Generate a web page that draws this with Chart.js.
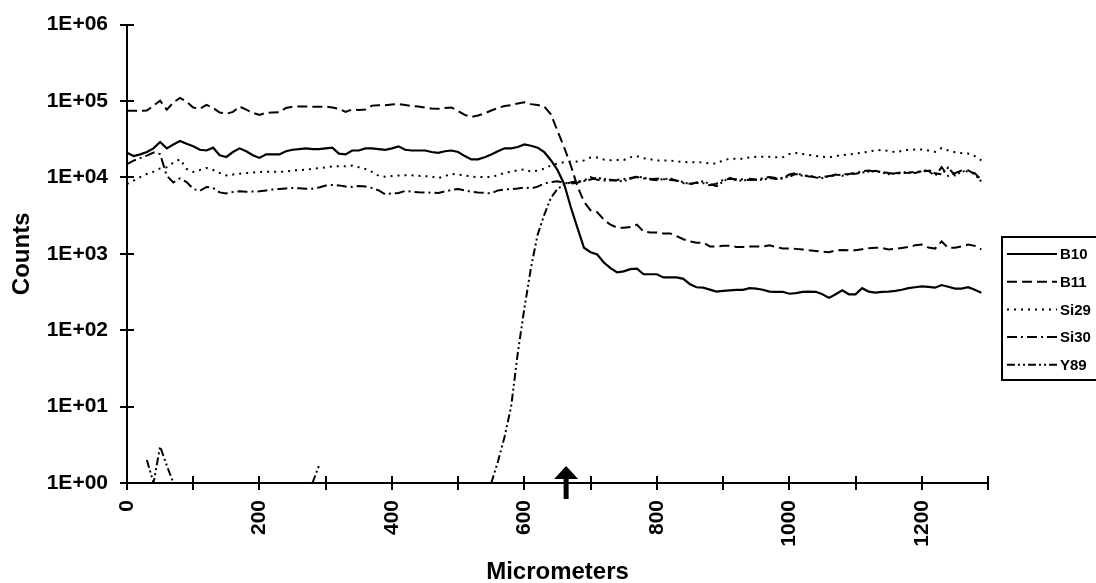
<!DOCTYPE html>
<html>
<head>
<meta charset="utf-8">
<script src="https://cdn.jsdelivr.net/npm/chart.js@4.4.1/dist/chart.umd.min.js"></script>
<style>
html,body{margin:0;padding:0;background:#fff;}
#wrap{width:1096px;height:583px;position:relative;}
</style>
</head>
<body>
<div id="wrap"><canvas id="c" width="1096" height="583"></canvas></div>
<script>
// ---------------- data ----------------
const micrometers = [0,10,20,30,40,50,60,70,80,90,100,110,120,130,140,150,160,170,180,190,
200,210,220,230,240,250,260,270,280,290,300,310,320,330,340,350,360,370,380,390,
400,410,420,430,440,450,460,470,480,490,500,510,520,530,540,550,560,570,580,590,
600,610,620,630,640,650,660,670,680,690,700,710,720,730,740,750,760,770,780,790,
800,810,820,830,840,850,860,870,880,890,900,910,920,930,940,950,960,970,980,990,
1000,1010,1020,1030,1040,1050,1060,1070,1080,1090,1100,1110,1120,1130,1140,1150,1160,1170,1180,1190,
1200,1210,1220,1230,1240,1250,1260,1270,1280,1290];

const seriesNames = ['B10','B11','Si29','Si30','Y89'];

const b10 = [21000,19000,20000,21500,24000,29000,24000,27000,30000,27500,
25500,23000,22500,24500,19500,18500,21500,24000,22000,19500,
18000,20000,20000,20000,22000,23000,23500,24000,23500,23500,
24000,24500,20500,20000,22500,22500,24000,24000,23500,23000,
24000,25500,23000,22500,22500,22500,21500,21000,22000,22500,
21500,19000,17200,17200,18400,20000,22000,24000,24000,25000,
27000,26000,24500,21500,16800,12500,8200,4100,2200,1200,
1050,980,770,650,570,590,630,640,540,540,
540,490,490,490,470,400,365,360,340,320,
328,333,338,338,355,350,338,320,318,318,
300,305,318,320,318,295,265,295,333,295,
295,355,320,310,318,320,328,338,355,365,
375,370,360,390,370,350,350,365,338,310];

const b11 = [74700,74600,74600,75000,87000,101000,77000,95700,110000,98000,
82000,79000,89000,81000,70800,68000,72000,84600,77000,70000,
65800,70000,70800,71500,81000,84000,84600,84600,84000,84200,
84600,82000,79000,72000,77500,76500,77500,87000,88000,88000,
90000,91000,88500,86000,84600,82000,80000,79000,81000,82000,
74000,65800,62000,64500,69000,75000,81000,86000,88500,93000,
96000,91000,88500,84600,67000,40500,24800,14400,7700,4800,
3700,3500,2800,2400,2200,2200,2250,2400,1950,1900,
1900,1850,1850,1700,1550,1450,1400,1400,1250,1250,
1270,1270,1230,1230,1250,1250,1250,1290,1230,1170,
1170,1160,1140,1110,1090,1070,1050,1110,1120,1110,
1110,1150,1180,1200,1195,1140,1160,1195,1230,1290,
1320,1210,1170,1450,1195,1200,1250,1320,1270,1140];

const si29 = [8200,9100,10100,11100,11900,13100,13600,15600,17300,12900,
11800,12500,13300,12500,11400,10600,10900,11200,11400,11600,
11800,11900,11900,11800,11900,12300,12500,12600,12900,13300,
13500,13900,14000,14000,14300,13600,12900,11800,10500,10200,
10400,10600,10700,10650,10500,10400,10250,9800,10400,11100,
10900,10600,10250,10100,10100,10100,10700,11400,11900,12400,
12700,11900,12300,13000,14300,15200,15800,16100,16100,16700,
18200,18200,17100,16800,16900,16900,18300,19000,17800,17300,
16600,16600,16600,16300,15900,15800,15800,15700,15200,15200,
16700,17500,17600,17600,18300,18600,18700,18600,18300,18300,
20200,20900,20200,19600,19100,18600,18300,19000,19600,20000,
20500,21100,21800,22600,22800,22200,21400,22200,23000,23100,
23100,22500,21600,24200,22500,21400,20800,20500,19000,16700];

const si30 = [14900,16600,17900,19300,21100,20200,10500,8600,9700,8700,
7060,6650,7500,7280,6360,6180,6460,6600,6500,6520,
6580,6760,6960,7060,7170,7280,7220,7120,7120,7380,
7820,7980,7860,7580,7500,7720,7580,7280,6760,6000,
6180,6270,6650,6500,6400,6350,6300,6270,6550,6850,
7060,6760,6460,6350,6270,6160,6760,6960,7000,7170,
7380,7170,7580,8280,8700,8870,8480,8280,8530,9120,
10100,9290,9080,9080,9250,9550,9840,10100,9700,9550,
9620,9480,9250,9120,8410,8280,8480,8410,7900,8280,
9290,9620,9480,9450,9250,9300,9750,10100,9840,9620,
10900,11400,10700,10250,10100,10100,10400,10600,10900,11100,
11500,12000,12300,11900,11800,11400,11100,11400,11500,11800,
12000,12200,10400,13600,10400,11400,12300,11900,11400,9290];

const y89 = [null,null,null,2,1,3,1.7,1,null,null,
null,null,null,null,null,null,null,null,null,null,
null,null,null,null,null,null,null,null,1,1.7,
null,null,null,null,null,null,null,null,null,null,
null,null,null,null,null,null,null,null,null,null,
null,null,null,null,null,1,1.9,4,10,50,
194,660,1780,3240,5400,7060,8100,8600,8900,9000,
9400,9900,9500,9300,9000,8900,9600,10300,9900,9400,
9200,9500,9700,9000,8700,8100,8600,8900,8200,7700,
8800,9900,9200,9000,9600,9400,9300,9800,9500,9900,
10200,11100,10500,10600,10000,9800,10300,10900,10500,11000,
11200,11600,11900,12200,11600,11000,11300,11700,11600,11400,
12100,12600,11300,11000,13500,10600,11800,12400,11000,8800];

const yTickValues = [1,10,100,1000,10000,100000,1000000];
const yTickLabels = ['1E+00','1E+01','1E+02','1E+03','1E+04','1E+05','1E+06'];
const xLabelValues = [0,200,400,600,800,1000,1200];
const xAxisTitle = 'Micrometers';
const yAxisTitle = 'Counts';
const arrowAt = 663;

// ---------------- styling ----------------
const FONT = '"Liberation Sans", Arial, Helvetica, sans-serif';
const seriesValues = [b10, b11, si29, si30, y89];
const dashes = [[], [10,5], [2,5], [10,4,2,4], [8,3,2,3,2,3]];
const widths = [2.2, 2, 2, 2, 2];

const datasets = seriesNames.map((name, s) => ({
  label: name,
  data: micrometers.map((x, i) => ({x: x, y: seriesValues[s][i]})),
  borderColor: '#000',
  backgroundColor: '#000',
  borderWidth: widths[s],
  borderDash: dashes[s],
  pointRadius: 0,
  tension: 0,
  spanGaps: false,
  fill: false
}));

const innerTicks = {
  id: 'innerTicks',
  afterDraw(chart) {
    const {ctx, chartArea, scales} = chart;
    ctx.save();
    ctx.strokeStyle = '#000';
    ctx.lineWidth = 2;
    ctx.setLineDash([]);
    scales.x.ticks.forEach(t => {
      const px = Math.round(scales.x.getPixelForValue(t.value));
      ctx.beginPath();
      ctx.moveTo(px, chartArea.bottom - 7);
      ctx.lineTo(px, chartArea.bottom);
      ctx.stroke();
    });
    scales.y.ticks.forEach(t => {
      const py = Math.round(scales.y.getPixelForValue(t.value));
      ctx.beginPath();
      ctx.moveTo(chartArea.left, py);
      ctx.lineTo(chartArea.left + 7, py);
      ctx.stroke();
    });
    // arrow annotation
    const ax = scales.x.getPixelForValue(arrowAt);
    ctx.fillStyle = '#000';
    ctx.fillRect(ax - 2.5, 474, 5, 25);
    ctx.beginPath();
    ctx.moveTo(ax, 466);
    ctx.lineTo(ax - 12, 479);
    ctx.lineTo(ax + 12, 479);
    ctx.closePath();
    ctx.fill();
    ctx.restore();
  }
};

const boxLegend = {
  id: 'boxLegend',
  afterDraw(chart) {
    const ctx = chart.ctx;
    ctx.save();
    ctx.strokeStyle = '#000';
    ctx.lineWidth = 2;
    ctx.setLineDash([]);
    ctx.strokeRect(1002, 237, 110, 143);
    chart.data.datasets.forEach((ds, i) => {
      const y = 254 + 27.7 * i;
      ctx.beginPath();
      ctx.lineWidth = ds.borderWidth;
      ctx.setLineDash(ds.borderDash || []);
      ctx.moveTo(1007, y);
      ctx.lineTo(1057, y);
      ctx.stroke();
      ctx.setLineDash([]);
      ctx.fillStyle = '#000';
      ctx.font = 'bold 15px ' + FONT;
      ctx.textAlign = 'left';
      ctx.textBaseline = 'middle';
      ctx.fillText(ds.label, 1060, y + 1);
    });
    ctx.restore();
  }
};

new Chart(document.getElementById('c'), {
  type: 'line',
  data: { datasets },
  plugins: [innerTicks, boxLegend],
  options: {
    responsive: false,
    animation: false,
    events: [],
    layout: { padding: { top: 22, right: 108, left: 0, bottom: 0 } },
    plugins: { legend: { display: false }, tooltip: { enabled: false } },
    scales: {
      x: {
        type: 'linear',
        min: 0, max: 1300,
        afterFit(scale) { scale.height = 100; },
        border: { display: true, color: '#000', width: 2 },
        grid: { display: true, drawOnChartArea: false, drawTicks: true, tickLength: 7, color: '#000', lineWidth: 2 },
        ticks: {
          stepSize: 100,
          autoSkip: false,
          minRotation: 90, maxRotation: 90,
          padding: 10,
          color: '#000',
          font: { family: FONT, size: 21, weight: 'bold' },
          callback: (v) => xLabelValues.includes(v) ? String(v) : ''
        },
        title: {
          display: true, text: xAxisTitle, color: '#000',
          font: { family: FONT, size: 24, weight: 'bold', lineHeight: 0.9 },
          padding: 0
        }
      },
      y: {
        type: 'logarithmic',
        min: 1, max: 1000000,
        afterFit(scale) { scale.width = 127; },
        afterBuildTicks(scale) { scale.ticks = yTickValues.map(v => ({ value: v })); },
        border: { display: true, color: '#000', width: 2 },
        grid: { display: true, drawOnChartArea: false, drawTicks: true, tickLength: 7, color: '#000', lineWidth: 2 },
        ticks: {
          padding: 12,
          color: '#000',
          font: { family: FONT, size: 21, weight: 'bold' },
          callback: (v) => { const k = yTickValues.indexOf(v); return k >= 0 ? yTickLabels[k] : ''; }
        },
        title: {
          display: true, text: yAxisTitle, color: '#000',
          font: { family: FONT, size: 24, weight: 'bold', lineHeight: 1.2 },
          padding: { top: 8, bottom: 0 }
        }
      }
    }
  }
});
</script>
</body>
</html>
